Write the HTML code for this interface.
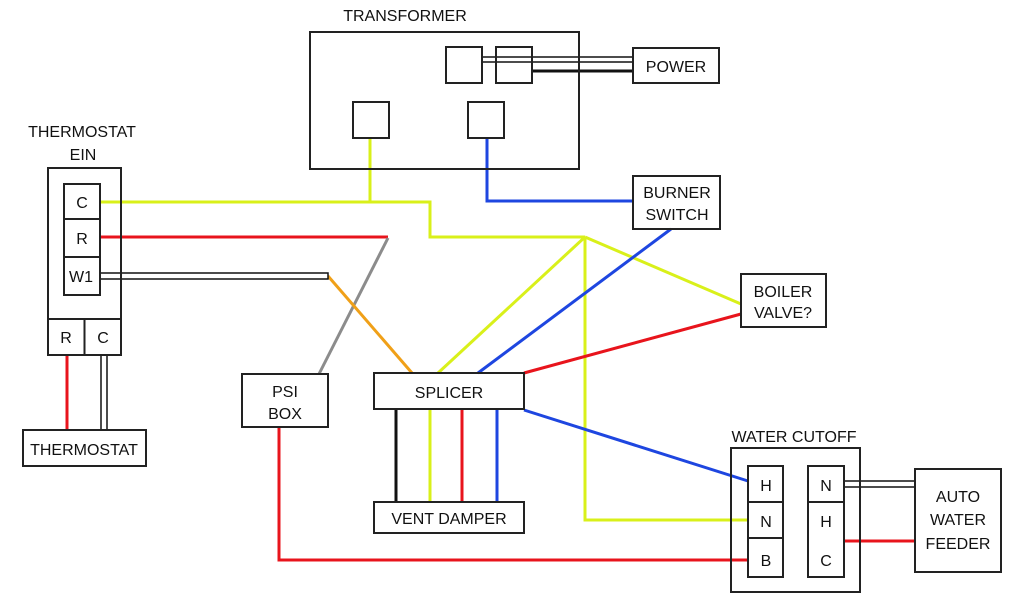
<!DOCTYPE html>
<html><head><meta charset="utf-8"><style>
html,body{margin:0;padding:0;background:#fff;width:1024px;height:600px;overflow:hidden}
text{font-family:"Liberation Sans",sans-serif;font-size:16px;fill:#111}
</style></head><body>
<svg width="1024" height="600" viewBox="0 0 1024 600" xmlns="http://www.w3.org/2000/svg">
<g fill="none" stroke-width="3">
<!-- yellow -->
<polyline points="100,202 430,202 430,237 585,237" stroke="#d9f01a"/>
<line x1="370" y1="138" x2="370" y2="202" stroke="#d9f01a"/>
<line x1="585" y1="237" x2="438" y2="373" stroke="#d9f01a"/>
<polyline points="585,237 585,520 748,520" stroke="#d9f01a"/>
<line x1="585" y1="237" x2="741" y2="304" stroke="#d9f01a"/>
<line x1="430" y1="409" x2="430" y2="502" stroke="#d9f01a"/>
<!-- red -->
<line x1="100" y1="237" x2="388" y2="237" stroke="#e8141c"/>
<line x1="67" y1="355" x2="67" y2="430" stroke="#e8141c"/>
<polyline points="279,427 279,560 748,560" stroke="#e8141c"/>
<line x1="741" y1="314" x2="524" y2="373" stroke="#e8141c"/>
<line x1="462" y1="409" x2="462" y2="502" stroke="#e8141c"/>
<line x1="844" y1="541" x2="915" y2="541" stroke="#e8141c"/>
<!-- grey / orange -->
<line x1="388" y1="238" x2="319" y2="374" stroke="#8c8c8c"/>
<line x1="328" y1="276" x2="412" y2="373" stroke="#f0a018"/>
<!-- blue -->
<polyline points="487,138 487,201 633,201" stroke="#1e46e0"/>
<line x1="671" y1="229" x2="478" y2="373" stroke="#1e46e0"/>
<line x1="524" y1="410" x2="748" y2="481" stroke="#1e46e0"/>
<line x1="497" y1="409" x2="497" y2="502" stroke="#1e46e0"/>
<!-- black -->
<line x1="396" y1="409" x2="396" y2="502" stroke="#111"/>
</g>
<!-- double wires -->
<g fill="#fff" stroke="#111" stroke-width="1.5">
<rect x="100" y="273" width="228" height="6"/>
<rect x="101" y="355" width="6" height="75"/>
<rect x="482" y="57" width="151" height="5"/>
<rect x="844" y="481" width="71" height="6"/>
</g>
<line x1="532" y1="71" x2="633" y2="71" stroke="#111" stroke-width="3"/>
<!-- boxes -->
<g fill="none" stroke="#222" stroke-width="2">
<rect x="48" y="168" width="73" height="187"/>
<line x1="48" y1="319" x2="121" y2="319"/>
<line x1="84.5" y1="319" x2="84.5" y2="355"/>
<rect x="64" y="184" width="36" height="35"/>
<rect x="64" y="219" width="36" height="38"/>
<rect x="64" y="257" width="36" height="38"/>
<rect x="23" y="430" width="123" height="36"/>
<rect x="310" y="32" width="269" height="137"/>
<rect x="446" y="47" width="36" height="36"/>
<rect x="496" y="47" width="36" height="36"/>
<rect x="353" y="102" width="36" height="36"/>
<rect x="468" y="102" width="36" height="36"/>
<rect x="633" y="48" width="86" height="35"/>
<rect x="633" y="176" width="87" height="53"/>
<rect x="741" y="274" width="85" height="53"/>
<rect x="242" y="374" width="86" height="53"/>
<rect x="374" y="373" width="150" height="36"/>
<rect x="374" y="502" width="150" height="31"/>
<rect x="731" y="448" width="129" height="144"/>
<rect x="748" y="466" width="35" height="36"/>
<rect x="748" y="502" width="35" height="36"/>
<rect x="748" y="538" width="35" height="39"/>
<rect x="808" y="466" width="36" height="36"/>
<rect x="808" y="502" width="36" height="75"/>
<rect x="915" y="469" width="86" height="103"/>
</g>
<g text-anchor="middle">
<text x="82" y="137">THERMOSTAT</text>
<text x="83" y="160">EIN</text>
<text x="82" y="208">C</text>
<text x="82" y="244">R</text>
<text x="81" y="282">W1</text>
<text x="66" y="343">R</text>
<text x="103" y="343">C</text>
<text x="84" y="455">THERMOSTAT</text>
<text x="405" y="21">TRANSFORMER</text>
<text x="676" y="72">POWER</text>
<text x="677" y="198">BURNER</text>
<text x="677" y="220">SWITCH</text>
<text x="783" y="297">BOILER</text>
<text x="783" y="318">VALVE?</text>
<text x="285" y="397">PSI</text>
<text x="285" y="419">BOX</text>
<text x="449" y="398">SPLICER</text>
<text x="449" y="524">VENT DAMPER</text>
<text x="794" y="442">WATER CUTOFF</text>
<text x="766" y="491">H</text>
<text x="766" y="527">N</text>
<text x="766" y="566">B</text>
<text x="826" y="491">N</text>
<text x="826" y="527">H</text>
<text x="826" y="566">C</text>
<text x="958" y="502">AUTO</text>
<text x="958" y="525">WATER</text>
<text x="958" y="549">FEEDER</text>
</g>
</svg>
</body></html>
